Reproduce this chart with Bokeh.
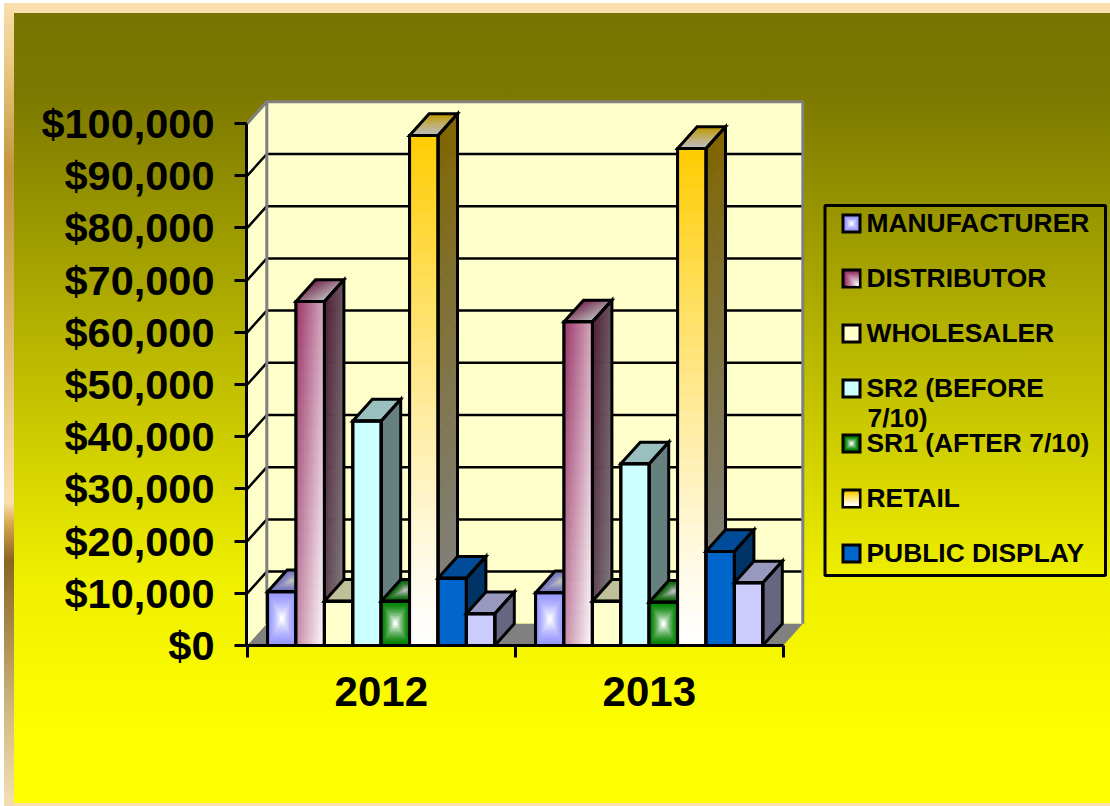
from bokeh.plotting import figure
from bokeh.embed import file_html
from bokeh.resources import INLINE
from bokeh.models import (FixedTicker, NumeralTickFormatter, Legend, LegendItem,
                          BoxAnnotation, Label)

# ---------- data ----------
categories = [2012, 2013]
series_names = ["MANUFACTURER", "DISTRIBUTOR", "WHOLESALER", "SR2 (BEFORE", "SR1 (AFTER 7/10)",
                "RETAIL", "PUBLIC DISPLAY", ""]
manufacturer = [10300, 10100]
distributor = [65900, 62000]
wholesaler = [8500, 8500]
sr2 = [43000, 34800]
sr1 = [8500, 8300]
retail = [97700, 95200]
public_display = [12900, 18000]
unlisted = [6100, 12000]
y_ticks = list(range(0, 100001, 10000))
wrapped_line = "7/10)"

# ---------- layout in reference pixels ----------
W, H = 1110, 806
F_L, F_R, F_T, F_B = 246, 1108, 99, 645
PX_Y = 5.22 / 1000
PX_X = 268
X0 = 2011.5
X_START = X0 - 0.8 / PX_X
DX = 19.5 / PX_X
DY = 21.7 / PX_Y
BAR = 28.4 / PX_X
GAP = 20.3 / PX_X
FONT = "Liberation Sans"

def fx(rx):
    return rx - F_L
def fy(ry):
    return F_B - ry

bg = ("linear-gradient(to bottom,#787400 0px,#7C7800 80px,#EFEF00 567px,#F7F700 645px,#FFFF00 727px,#FFFF00 100%) "
      "14px 13px / calc(100% - 14px) 790px no-repeat,"
      "linear-gradient(to bottom,#F9DFAE 0px,#E8C780 65px,#C3963C 165px,#D4AA55 265px,#F0D090 425px,"
      "#FADFAE 500px,#D8A850 520px,#8A6422 557px,#A8884A 625px,#D4BC84 715px,#F2DCB0 795px) "
      "4px 3px / 10px 803px no-repeat,"
      "linear-gradient(#F9DFAE,#F9DFAE) 4px 3px / calc(100% - 4px) 803px no-repeat,#FFFFFF")

p = figure(width=W, height=H, output_backend="svg", toolbar_location=None, tools="",
           x_range=(X_START, X_START + (F_R - F_L) / PX_X), y_range=(0, (F_B - F_T) / PX_Y),
           frame_width=F_R - F_L, frame_height=F_B - F_T,
           min_border_left=F_L, min_border_top=F_T,
           min_border_right=W - F_R, min_border_bottom=H - F_B,
           border_fill_color=None, background_fill_color=None, outline_line_color=None,
           styles={"background": bg})
p.xgrid.visible = False
p.ygrid.visible = False

# axes
ya = p.yaxis[0]
ya.ticker = FixedTicker(ticks=y_ticks)
ya.formatter = NumeralTickFormatter(format="$0,0")
ya.bounds = (0, 100000)
ya.axis_line_width = 3
ya.axis_line_color = "black"
ya.major_tick_in = 0
ya.major_tick_out = 12
ya.major_tick_line_width = 3
ya.major_label_standoff = 20
ya.major_label_text_font = FONT
ya.major_label_text_font_style = "bold"
ya.major_label_text_font_size = "41.5px"
ya.major_label_text_color = "black"

xa = p.xaxis[0]
xa.ticker = FixedTicker(ticks=categories, minor_ticks=[c - 0.5 for c in categories] + [categories[-1] + 0.5])
xa.formatter = NumeralTickFormatter(format="0")
xa.bounds = (categories[0] - 0.5, categories[-1] + 0.5)
xa.axis_line_width = 3
xa.axis_line_color = "black"
xa.major_tick_in = 0
xa.major_tick_out = 0
xa.major_tick_line_color = None
xa.minor_tick_in = 0
xa.minor_tick_out = 12
xa.minor_tick_line_width = 3
xa.minor_tick_line_color = "black"
xa.major_label_standoff = 19
xa.major_label_text_font = FONT
xa.major_label_text_font_style = "bold"
xa.major_label_text_font_size = "42px"
xa.major_label_text_color = "black"

# ---------- walls ----------
xl, xr = X0, categories[-1] + 0.5
top = y_ticks[-1]
CREAM, GREY = "#FFFFCC", "#808080"
p.patches([[xl, xl + DX, xl + DX, xl], [xl + DX, xr + DX, xr + DX, xl + DX]],
          [[0, DY, top + DY, top], [DY, DY, top + DY, top + DY]],
          fill_color=CREAM, line_color=None)
p.patch([xl, xr, xr + DX, xl + DX], [0, 0, DY, DY], fill_color=GREY, line_color=None)
gl = y_ticks[1:-1]
p.multi_line([[xl, xl + DX, xr + DX] for _ in gl], [[v, v + DY, v + DY] for v in gl],
             line_color="black", line_width=2.5)
p.multi_line([[xl + DX, xl + DX, xr + DX, xr + DX], [xl, xl + DX]],
             [[DY, top + DY, top + DY, DY], [top, top + DY]], line_color=GREY, line_width=3)

# ---------- colour helpers ----------
def rgb(h):
    return tuple(int(h[i:i + 2], 16) for i in (1, 3, 5))
def mix(a, b, t):
    t = max(0.0, min(1.0, t))
    ca, cb = rgb(a), rgb(b)
    return "#%02X%02X%02X" % tuple(round(ca[i] + (cb[i] - ca[i]) * t) for i in range(3))
def pt(c, u, v):
    # c = bottom-left, bottom-right, top-right, top-left
    x = (1 - v) * ((1 - u) * c[0][0] + u * c[1][0]) + v * ((1 - u) * c[3][0] + u * c[2][0])
    y = (1 - v) * ((1 - u) * c[0][1] + u * c[1][1]) + v * ((1 - u) * c[3][1] + u * c[2][1])
    return x, y

def gradient_polys(c, g):
    """g = (kind, colour a, colour b); returns polygons in painter order."""
    kind, a, b = g
    out = []
    if kind == "center":          # a at the edges, b at the centre
        n = 16
        for i in range(n):
            s = i / n / 2
            q = [pt(c, s, s), pt(c, 1 - s, s), pt(c, 1 - s, 1 - s), pt(c, s, 1 - s)]
            out.append((q, mix(a, b, (i / (n - 1)) ** 1.6)))
    elif kind == "v":             # a at the top, b at the bottom
        n = 40
        for i in range(n):
            v0, v1 = i / n, (i + 1) / n
            q = [pt(c, 0, v0), pt(c, 1, v0), pt(c, 1, v1), pt(c, 0, v1)]
            out.append((q, mix(b, a, ((i + .5) / n) ** 1.25)))
    elif kind == "diag":          # a at top-left, b at bottom-right
        nu, nv, w = 10, 30, 0.58
        for i in range(nu):
            for j in range(nv):
                u0, u1, v0, v1 = i / nu, (i + 1) / nu, j / nv, (j + 1) / nv
                q = [pt(c, u0, v0), pt(c, u1, v0), pt(c, u1, v1), pt(c, u0, v1)]
                t = w * (i + .5) / nu + (1 - w) * (1 - (j + .5) / nv)
                out.append((q, mix(a, b, t)))
    return out

# ---------- series ----------
values = [manufacturer, distributor, wholesaler, sr2, sr1, retail, public_display, unlisted]
styles = [
    dict(front=("center", "#9999FF", "#FFFFFF"), side="#4D4D80", top=("center", "#7373BF", "#BFBFBF"), base="#9999FF"),
    dict(front=("diag", "#993366", "#FFFFFF"), side=("diag", "#4D1A33", "#808080"), top=("diag", "#73264D", "#BFBFBF"), base="#993366"),
    dict(front="#FFFFCC", side="#808066", top="#BFBF99", base="#FFFFCC"),
    dict(front="#CCFFFF", side="#668080", top="#99BFBF", base="#CCFFFF"),
    dict(front=("center", "#008000", "#FFFFFF"), side="#004000", top=("center", "#006000", "#BFBFBF"), base="#008000"),
    dict(front=("v", "#FFCC00", "#FFFFFF"), side=("v", "#806600", "#808080"), top=("v", "#BF9900", "#BFBFBF"), base="#FFCC00"),
    dict(front="#0066CC", side="#003366", top="#004C99", base="#0066CC"),
    dict(front="#CCCCFF", side="#666680", top="#9999BF", base="#CCCCFF"),
]

def draw_face(c, style):
    if isinstance(style, str):
        p.patch([q[0] for q in c], [q[1] for q in c], fill_color=style, line_color=style, line_width=1)
    else:
        polys = gradient_polys(c, style)
        p.patches([[q[0] for q in poly] for poly, _ in polys],
                  [[q[1] for q in poly] for poly, _ in polys],
                  fill_color=[col for _, col in polys], line_color=[col for _, col in polys], line_width=0.8)

legend_renderers = []
for s, (vals, st) in enumerate(zip(values, styles)):
    lefts = [c - 0.5 + GAP + s * BAR for c in categories]
    rights = [l + BAR for l in lefts]
    outlines_x, outlines_y = [], []
    for l, r, v in zip(lefts, rights, vals):
        side = [(r, 0), (r + DX, DY), (r + DX, v + DY), (r, v)]
        topf = [(l, v), (r, v), (r + DX, v + DY), (l + DX, v + DY)]
        draw_face(side, st["side"])
        draw_face(topf, st["top"])
    p.quad(left=lefts, right=rights, bottom=[0, 0], top=vals, fill_color=st["base"],
           line_color="black", line_width=3)
    # the legend's own swatch stays clear; the gradient swatch is drawn beneath it
    legend_renderers.append(p.quad(left=lefts, right=rights, bottom=[0, 0], top=vals,
                                   fill_alpha=0, line_alpha=0))
    for l, r, v in zip(lefts, rights, vals):
        front = [(l, 0), (r, 0), (r, v), (l, v)]
        if not isinstance(st["front"], str):
            draw_face(front, st["front"])
        outlines_x += [[l, r, r, l], [r, r + DX, r + DX, r], [l, l + DX, r + DX, r]]
        outlines_y += [[0, 0, v, v], [0, DY, v + DY, v], [v, v + DY, v + DY, v]]
    p.patches(outlines_x, outlines_y, fill_color=None, line_color="black", line_width=3,
              line_join="miter")

# ---------- legend ----------
ITEM_H, STEP = 31, 55
FIRST_CY = 223
items = [LegendItem(label=series_names[i], renderers=[legend_renderers[i]]) for i in range(7)]
legend = Legend(items=items, location=(fx(839.5), fy(FIRST_CY + 6 * STEP + ITEM_H / 2)),
                padding=0, margin=0, spacing=STEP - ITEM_H, glyph_width=20, glyph_height=20,
                label_height=ITEM_H, label_standoff=7, background_fill_alpha=0,
                border_line_color=None, label_text_font=FONT, label_text_font_style="bold",
                label_text_font_size="26.4px", label_text_color="black")
p.add_layout(legend, "center")

def box(x0, y0, x1, y1, **kw):
    p.add_layout(BoxAnnotation(left=fx(x0), right=fx(x1), top=fy(y0), bottom=fy(y1),
                               left_units="screen", right_units="screen",
                               top_units="screen", bottom_units="screen", **kw))

box(824.5, 205, 1105, 575, fill_alpha=0, line_color="black", line_width=3, line_alpha=1)

def swatch(i, kind, a, b=None):
    cy = FIRST_CY + i * STEP
    x0, x1, y0, y1 = 844, 858, cy - 7, cy + 7
    n = 14
    kw = dict(fill_alpha=1, line_color=None)
    box(x0 - 3, y0 - 3, x1 + 3, y1 + 3, fill_color="black", **kw)
    if kind == "center":
        for k in range(7):
            box(x0 + k, y0 + k, x1 - k, y1 - k, fill_color=mix(a, b, (k / 6) ** 1.4), **kw)
    elif kind == "v":
        for k in range(n):
            box(x0, y0 + k, x1, y1, fill_color=mix(a, b, k / (n - 1)), **kw)
    elif kind == "diag":
        for k in range(n):
            box(x0 + k, y0 + k, x1, y1, fill_color=mix(a, b, k / (n - 1)), **kw)
    else:
        box(x0, y0, x1, y1, fill_color=a, **kw)

swatch(0, "center", "#9999FF", "#FFFFFF")
swatch(1, "diag", "#993366", "#FFFFFF")
swatch(2, "flat", "#FFFFCC")
swatch(3, "flat", "#CCFFFF")
swatch(4, "center", "#008000", "#FFFFFF")
swatch(5, "v", "#FFCC00", "#FFFFFF")
swatch(6, "flat", "#0066CC")

p.add_layout(Label(x=fx(867), y=fy(417), x_units="screen", y_units="screen", text=wrapped_line,
                   text_font=FONT, text_font_style="bold", text_font_size="26.4px",
                   text_color="black", text_baseline="middle"))

open("out.html", "w").write(file_html(p, INLINE))
